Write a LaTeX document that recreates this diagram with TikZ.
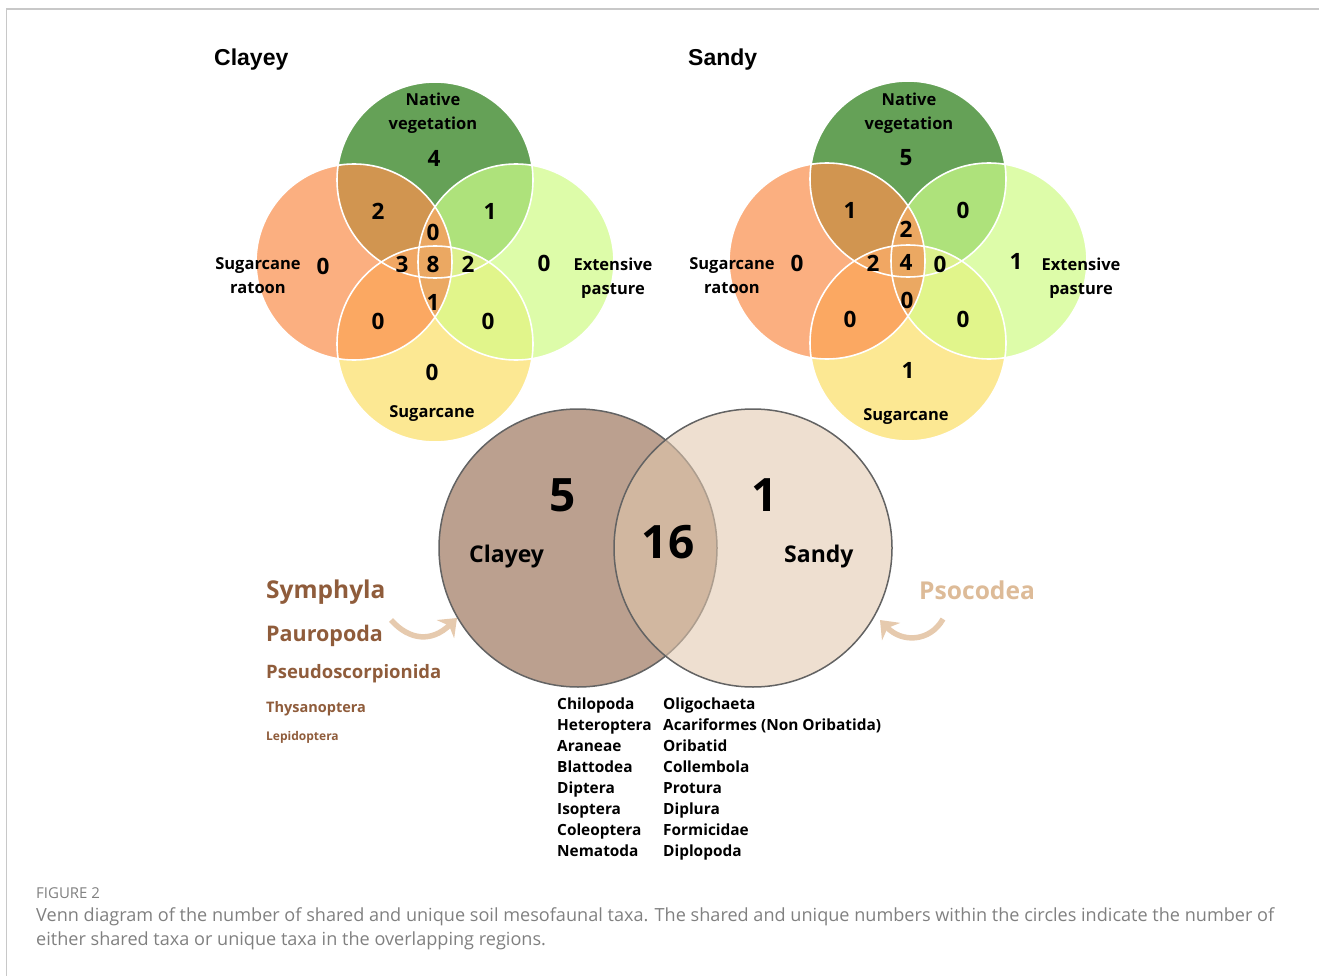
\documentclass[tikz,border=0pt]{standalone}
\usepackage{fontspec}
\setmainfont{Open Sans}
\newfontfamily\headfont{Liberation Sans}
\usetikzlibrary{arrows.meta}
\definecolor{native}{HTML}{65A157}
\definecolor{ratoon}{HTML}{FBAF80}
\definecolor{pasture}{HTML}{DDFCA9}
\definecolor{cane}{HTML}{FCE893}
\definecolor{natrat}{HTML}{D19550}
\definecolor{natpas}{HTML}{AEE27B}
\definecolor{ratcane}{HTML}{FBA862}
\definecolor{pascane}{HTML}{E1F58B}
\definecolor{core}{HTML}{EBA862}
\definecolor{corel}{HTML}{F1A763}
\definecolor{corer}{HTML}{DCF08D}
\definecolor{clay}{HTML}{BBA08F}
\definecolor{sand}{HTML}{E2C8AE}
\definecolor{taxon}{HTML}{8F5C3B}
\definecolor{psoco}{HTML}{DDBB98}
\definecolor{swoosh}{HTML}{E6CAAE}
\definecolor{rimgray}{HTML}{636363}
\definecolor{framegray}{HTML}{C8C8C8}
\definecolor{capgray}{HTML}{808080}
\begin{document}
\begin{tikzpicture}[x=1pt,y=-1pt,
    lbl/.style={font=\bfseries\fontsize{16.5}{24}\selectfont,align=center,inner sep=0pt},
    num/.style={font=\bfseries\fontsize{22.5}{22.5}\selectfont,inner sep=0pt},
    big/.style={font=\bfseries\fontsize{46}{46}\selectfont,inner sep=0pt},
    soil/.style={font=\bfseries\fontsize{23}{23}\selectfont,anchor=base west,inner sep=0pt},
    head/.style={font=\headfont\bfseries\fontsize{23}{23}\selectfont,anchor=base west,inner sep=0pt},
    taxa/.style={font=\bfseries\fontsize{15.4}{21}\selectfont,anchor=base west,inner sep=0pt},
    only/.style={text=taxon,anchor=base west,inner sep=0pt},
    swooshArrow/.style={swoosh,line width=5.5pt,-{Stealth[length=16pt,width=25pt,inset=5pt]}},
    rim/.style={white,line width=1.6pt}]

  \useasboundingbox (0,0) rectangle (1319,976);
  \draw[framegray,line width=1.5pt] (6.3,976) -- (6.3,9) -- (1319,9);

  \foreach \dx/\dy in {0/0,473/-1}{
    \begin{scope}[shift={(\dx,\dy)}]
      \coordinate (T) at (435,180);
      \coordinate (L) at (354,262);
      \coordinate (R) at (516,262);
      \coordinate (B) at (435,344);
      \fill[native] (T) circle (98pt);
      \fill[ratoon] (L) circle (98pt);
      \fill[pasture] (R) circle (98pt);
      \fill[cane] (B) circle (98pt);
      \begin{scope}
        \clip (T) circle (98pt);
        \fill[natrat] (L) circle (98pt);
        \fill[natpas] (R) circle (98pt);
      \end{scope}
      \begin{scope}
        \clip (B) circle (98pt);
        \fill[ratcane] (L) circle (98pt);
        \fill[pascane] (R) circle (98pt);
      \end{scope}
      \begin{scope}
        \clip (T) circle (98pt);
        \clip (B) circle (98pt);
        \fill[corel] (L) circle (98pt);
        \fill[corer] (R) circle (98pt);
      \end{scope}
      \begin{scope}
        \clip (L) circle (98pt);
        \fill[core] (R) circle (98pt);
      \end{scope}
      \draw[rim] (T) circle (98pt) (L) circle (98pt) (R) circle (98pt) (B) circle (98pt);
    \end{scope}
  }

  \node[head] (cTitle) at (214,66) {Clayey};
  \node[lbl] (cNat) at (433,113) {Native\\vegetation};
  \node[lbl] (cRat) at (258,276) {Sugarcane\\ratoon};
  \node[lbl] (cPas) at (613,278) {Extensive\\pasture};
  \node[lbl,anchor=base] (cCan) at (432,417) {Sugarcane};
  \node[num] (cN) at (434,158) {4};
  \node[num] (cNR) at (378,211) {2};
  \node[num] (cNP) at (490,211) {1};
  \node[num] (cNRP) at (433,232) {0};
  \node[num] (cNRC) at (402,264) {3};
  \node[num] (cAll) at (433,264) {8};
  \node[num] (cNPC) at (468,264) {2};
  \node[num] (cRPC) at (433,302) {1};
  \node[num] (cRC) at (378,321) {0};
  \node[num] (cPC) at (488,321) {0};
  \node[num] (cC) at (432,372) {0};
  \node[num] (cR) at (323,266) {0};
  \node[num] (cP) at (544,263) {0};

  \node[head] (sTitle) at (688,66) {Sandy};
  \node[lbl] (sNat) at (909,113) {Native\\vegetation};
  \node[lbl] (sRat) at (732,276) {Sugarcane\\ratoon};
  \node[lbl] (sPas) at (1081,278) {Extensive\\pasture};
  \node[lbl,anchor=base] (sCan) at (906,420) {Sugarcane};
  \node[num] (sN) at (906,158) {5};
  \node[num] (sNR) at (850,210) {1};
  \node[num] (sNP) at (963,210) {0};
  \node[num] (sNRP) at (906,229) {2};
  \node[num] (sNRC) at (873,263) {2};
  \node[num] (sAll) at (906,262) {4};
  \node[num] (sNPC) at (940,264) {0};
  \node[num] (sRPC) at (907,300) {0};
  \node[num] (sRC) at (850,319) {0};
  \node[num] (sPC) at (963,319) {0};
  \node[num] (sC) at (908,370) {1};
  \node[num] (sR) at (797,263) {0};
  \node[num] (sP) at (1016,261) {1};

  \coordinate (CL) at (578,548);
  \coordinate (SA) at (753,548);
  \filldraw[fill=clay,draw=rimgray,line width=1.5pt] (CL) circle (139pt);
  \filldraw[fill=sand,fill opacity=0.58,draw=rimgray,line width=1.5pt] (SA) circle (139pt);
  \node[big] (nClay) at (563,495) {5};
  \node[big] (nSand) at (765,495) {1};
  \node[big] (nBoth) at (668,542) {16};
  \node[soil] (lClay) at (469,562) {Clayey};
  \node[soil] (lSand) at (784,562) {Sandy};

  \node[only,font=\bfseries\fontsize{24.5}{24.5}\selectfont] (sym) at (266,598) {Symphyla};
  \node[only,font=\bfseries\fontsize{21.5}{21.5}\selectfont] (pau) at (266,641) {Pauropoda};
  \node[only,font=\bfseries\fontsize{18.5}{18.5}\selectfont] (pse) at (266,678) {Pseudoscorpionida};
  \node[only,font=\bfseries\fontsize{14.5}{14.5}\selectfont] (thy) at (266,712) {Thysanoptera};
  \node[only,font=\bfseries\fontsize{12}{12}\selectfont] (lep) at (266,740) {Lepidoptera};
  \node[only,text=psoco,font=\bfseries\fontsize{24.6}{24.6}\selectfont] (pso) at (919,599) {Psocodea};

  \coordinate (lTail) at (391,620);
  \coordinate (lTip) at (457,618);
  \draw[swooshArrow] (lTail) .. controls (410,641) and (432,642) .. (lTip);
  \coordinate (rTail) at (943,619);
  \coordinate (rTip) at (880,620);
  \draw[swooshArrow] (rTail) .. controls (930,642) and (902,643) .. (rTip);

  \foreach \t [count=\i from 0] in {Chilopoda,Heteroptera,Araneae,Blattodea,Diptera,Isoptera,Coleoptera,Nematoda}
    \node[taxa] (sa\i) at (557,{709+21*\i}) {\t};
  \foreach \t [count=\i from 0] in {Oligochaeta,{Acariformes (Non Oribatida)},Oribatid,Collembola,Protura,Diplura,Formicidae,Diplopoda}
    \node[taxa] (sb\i) at (663,{709+21*\i}) {\t};

  \node[anchor=base west,inner sep=0pt,text=capgray,font=\fontsize{15}{15}\selectfont] (fig) at (36,898) {FIGURE 2};
  \node[anchor=base west,inner sep=0pt,text=capgray,font=\fontsize{18.1}{24}\selectfont,align=left] (cap) at (36,945) {Venn diagram of the number of shared and unique soil mesofaunal taxa. The shared and unique numbers within the circles indicate the number of\\either shared taxa or unique taxa in the overlapping regions.};
\end{tikzpicture}
\end{document}
